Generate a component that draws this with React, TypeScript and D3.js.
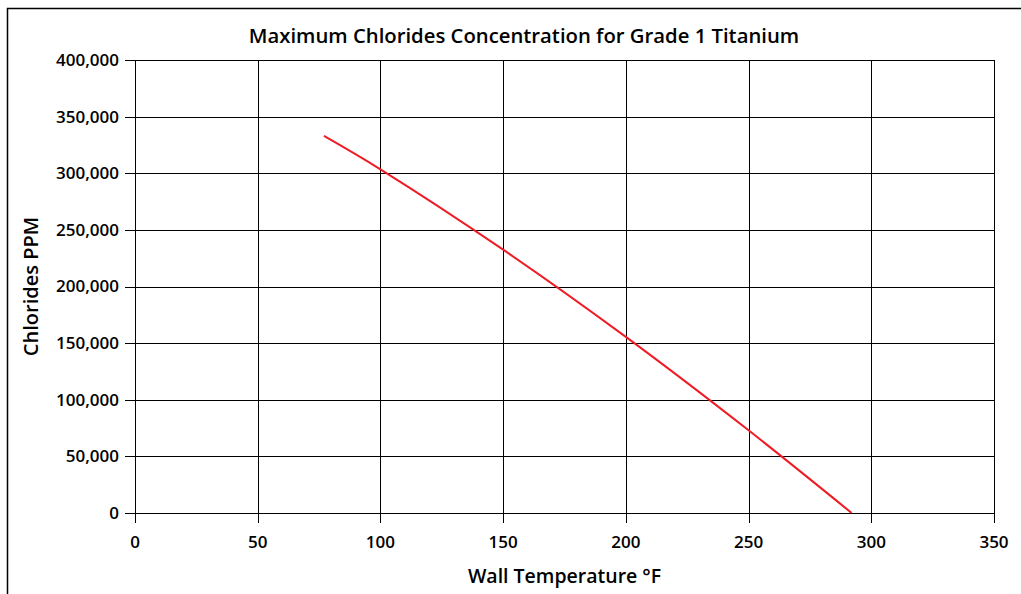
import * as d3 from "d3";

const title = "Maximum Chlorides Concentration for Grade 1 Titanium";
const xLabel = "Wall Temperature °F";
const yLabel = "Chlorides PPM";

const xTicks = [0, 50, 100, 150, 200, 250, 300, 350];
const yTicks = [0, 50000, 100000, 150000, 200000, 250000, 300000, 350000, 400000];

const tempF = [77, 100, 150, 200, 250, 292];
const chloridesPpm = [333000, 303500, 232500, 155500, 73000, 0];

const W = 1021;
const H = 594;
const margin = { top: 60, right: 27, bottom: 81, left: 135 };
const font = "'Open Sans', 'Noto Sans', sans-serif";

export default function App() {
  const plotW = W - margin.left - margin.right;
  const plotH = H - margin.top - margin.bottom;

  const x = d3.scaleLinear().domain([0, 350]).range([0, plotW]);
  const y = d3.scaleLinear().domain([0, 400000]).range([plotH, 0]);

  const points = tempF.map((t, i) => [t, chloridesPpm[i]] as [number, number]);
  const line = d3
    .line<[number, number]>()
    .x(d => x(d[0]))
    .y(d => y(d[1]))
    .curve(d3.curveCatmullRom.alpha(0.5));

  const fmt = d3.format(",");
  const px = (v: number) => Math.round(v) + 0.5;

  return (
    <svg
      width={W}
      height={H}
      style={{ position: "absolute", left: 0, top: 0, background: "#fff" }}
      fontFamily={font}
    >
      <rect x={7.5} y={8.5} width={1030} height={600} fill="none" stroke="#000" strokeWidth={1.5} />
      <text
        x={524}
        y={43}
        textAnchor="middle"
        fontSize={20.3}
        fontWeight={600}
        fill="#000"
      >
        {title}
      </text>
      <g transform={`translate(${margin.left},${margin.top})`}>
        {yTicks.map(t => (
          <g key={"y" + t}>
            <line x1={-10} x2={plotW} y1={px(y(t))} y2={px(y(t))} stroke="#000" strokeWidth={1} />
            <text
              x={-16}
              y={y(t)}
              dy="0.35em"
              textAnchor="end"
              fontSize={17}
              fontWeight={600}
              fill="#000"
            >
              {fmt(t)}
            </text>
          </g>
        ))}
        {xTicks.map(t => (
          <g key={"x" + t}>
            <line x1={px(x(t))} x2={px(x(t))} y1={0} y2={plotH + 10} stroke="#000" strokeWidth={1} />
            <text
              x={x(t)}
              y={plotH + 35}
              textAnchor="middle"
              fontSize={17}
              fontWeight={600}
              fill="#000"
            >
              {t}
            </text>
          </g>
        ))}
        <path d={line(points) ?? ""} fill="none" stroke="#ee1c25" strokeWidth={2} />
        <text
          x={plotW / 2}
          y={plotH + 70}
          textAnchor="middle"
          fontSize={19.5}
          fontWeight={600}
          fill="#000"
        >
          {xLabel}
        </text>
        <text
          transform={`translate(${-97},${plotH / 2}) rotate(-90)`}
          textAnchor="middle"
          fontSize={20}
          fontWeight={600}
          fill="#000"
        >
          {yLabel}
        </text>
      </g>
    </svg>
  );
}
